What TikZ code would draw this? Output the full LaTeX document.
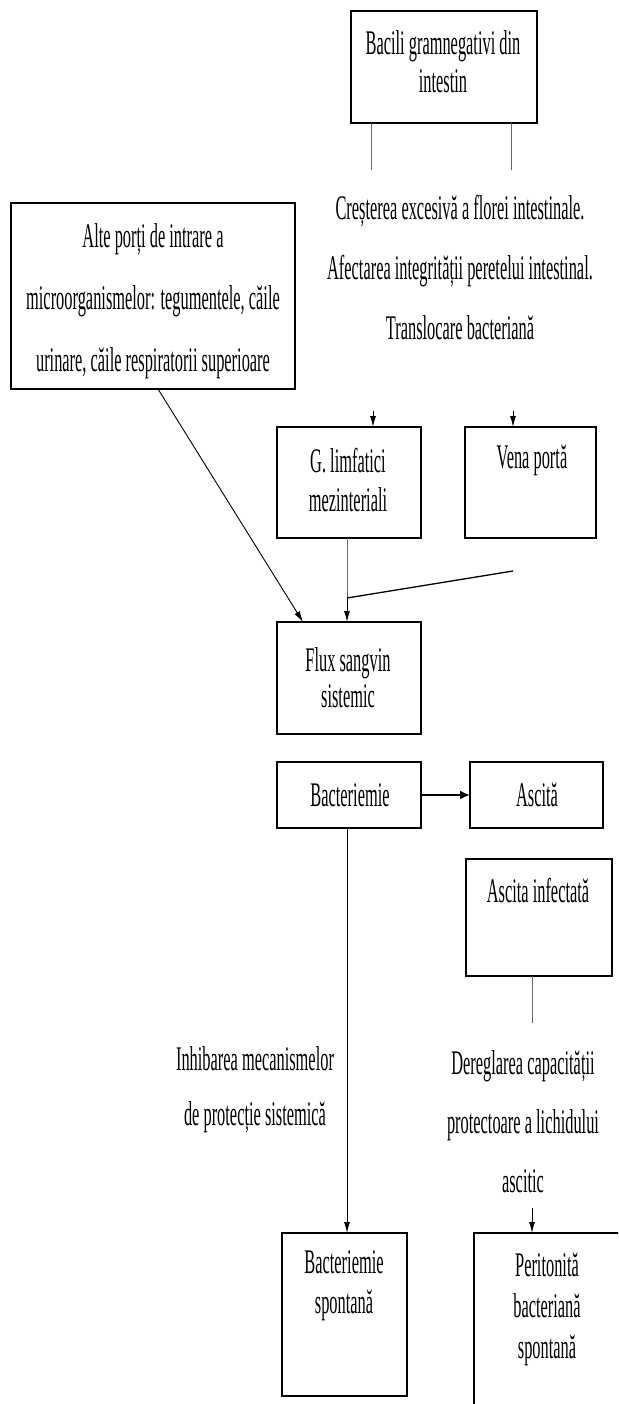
\documentclass[tikz,border=0pt]{standalone}
\usepackage{fontspec}
\setmainfont{Liberation Serif}[FakeStretch=0.475]
\usetikzlibrary{arrows.meta}
\begin{document}
\begin{tikzpicture}[x=1pt,y=-1pt,
  box/.style={draw=black,line width=1.4pt,inner sep=0pt,outer sep=0pt,anchor=north west},
  txt/.style={align=center,inner sep=0pt,font=\fontsize{34.5}{#1}\selectfont},
  txt/.default=38,
  conn/.style={line width=0.9pt,draw=black},
  gconn/.style={line width=1pt,draw=black!60},
  arr/.style={conn,-{Latex[length=11pt,width=6pt]}}
]
\useasboundingbox (0,0) rectangle (618,1404);
\fill[white] (0,0) rectangle (618,1404);
\begin{scope}
\clip (0,0) rectangle (618,1404);
% boxes
\node[box,minimum width=186,minimum height=112] (b1) at (351,11) {};
\node[box,minimum width=284,minimum height=186] (alte) at (11,203) {};
\node[box,minimum width=144,minimum height=111] (lim) at (277,427) {};
\node[box,minimum width=131,minimum height=111] (vena) at (465,427) {};
\node[box,minimum width=144,minimum height=112] (flux) at (277,622) {};
\node[box,minimum width=144,minimum height=66] (bact) at (277,762) {};
\node[box,minimum width=133,minimum height=66] (asc) at (470,762) {};
\node[box,minimum width=146,minimum height=117] (ascinf) at (466,859) {};
\node[box,minimum width=125,minimum height=163] (bsp) at (282,1233) {};
\node[box,minimum width=220,minimum height=260] (per) at (474,1233) {};
% texts
\node[txt] (tb1) at (443,62) {Bacili gramnegativi din\\intestin};
\node[txt=62] (talte) at (153,301) {Alte porți de intrare a\\microorganismelor: tegumentele, căile\\urinare, căile respiratorii superioare};
\node[txt=60] (tcres) at (460,268) {Creșterea excesivă a florei intestinale.\\Afectarea integrității peretelui intestinal.\\Translocare bacteriană};
\node[txt=39] (tlim) at (348,480) {G. limfatici\\mezinteriali};
\node[txt] (tvena) at (532,460) {Vena portă};
\node[txt=36] (tflux) at (348,678) {Flux sangvin\\sistemic};
\node[txt] (tbact) at (350,795) {Bacteriemie};
\node[txt] (tasc) at (537,795) {Ascită};
\node[txt] (tascinf) at (538,891) {Ascita infectată};
\node[txt=55] (tinh) at (255,1090) {Inhibarea mecanismelor\\de protecție sistemică};
\node[txt=59] (tdereg) at (523,1122) {Dereglarea capacității\\protectoare a lichidului\\ascitic};
\node[txt=40] (tbsp) at (344,1286) {Bacteriemie\\spontană};
\node[txt=41] (tper) at (547,1309) {Peritonită\\bacteriană\\spontană};
% connectors
\coordinate (c1) at (371,170);
\coordinate (c2) at (511,170);
\draw[gconn] (b1.south -| c1) -- (c1);
\draw[gconn] (b1.south -| c2) -- (c2);
\coordinate (a1) at (373,411);
\coordinate (a2) at (513,411);
\draw[arr] (a1) -- (lim.north -| a1);
\draw[arr] (a2) -- (vena.north -| a2);
\coordinate (d1) at (158,389);
\coordinate (d2) at (303,622);
\draw[arr] (alte.south -| d1) -- (flux.north -| d2);
\coordinate (j) at (347,598);
\coordinate (v) at (513,571);
\draw[gconn] (lim.south -| j) -- (j);
\draw[conn,line width=1.3pt] (j) -- (v);
\draw[arr] (j) -- (flux.north -| j);
\draw[conn,line width=1.8pt,-{Latex[length=10pt,width=9pt]}] (bact.east) -- (asc.west);
\draw[arr] (bact.south -| j) -- (bsp.north -| j);
\coordinate (e1) at (532,1023);
\draw[gconn] (ascinf.south -| e1) -- (e1);
\coordinate (e2) at (532,1208);
\draw[arr] (e2) -- (per.north -| e2);
\end{scope}
\end{tikzpicture}
\end{document}
